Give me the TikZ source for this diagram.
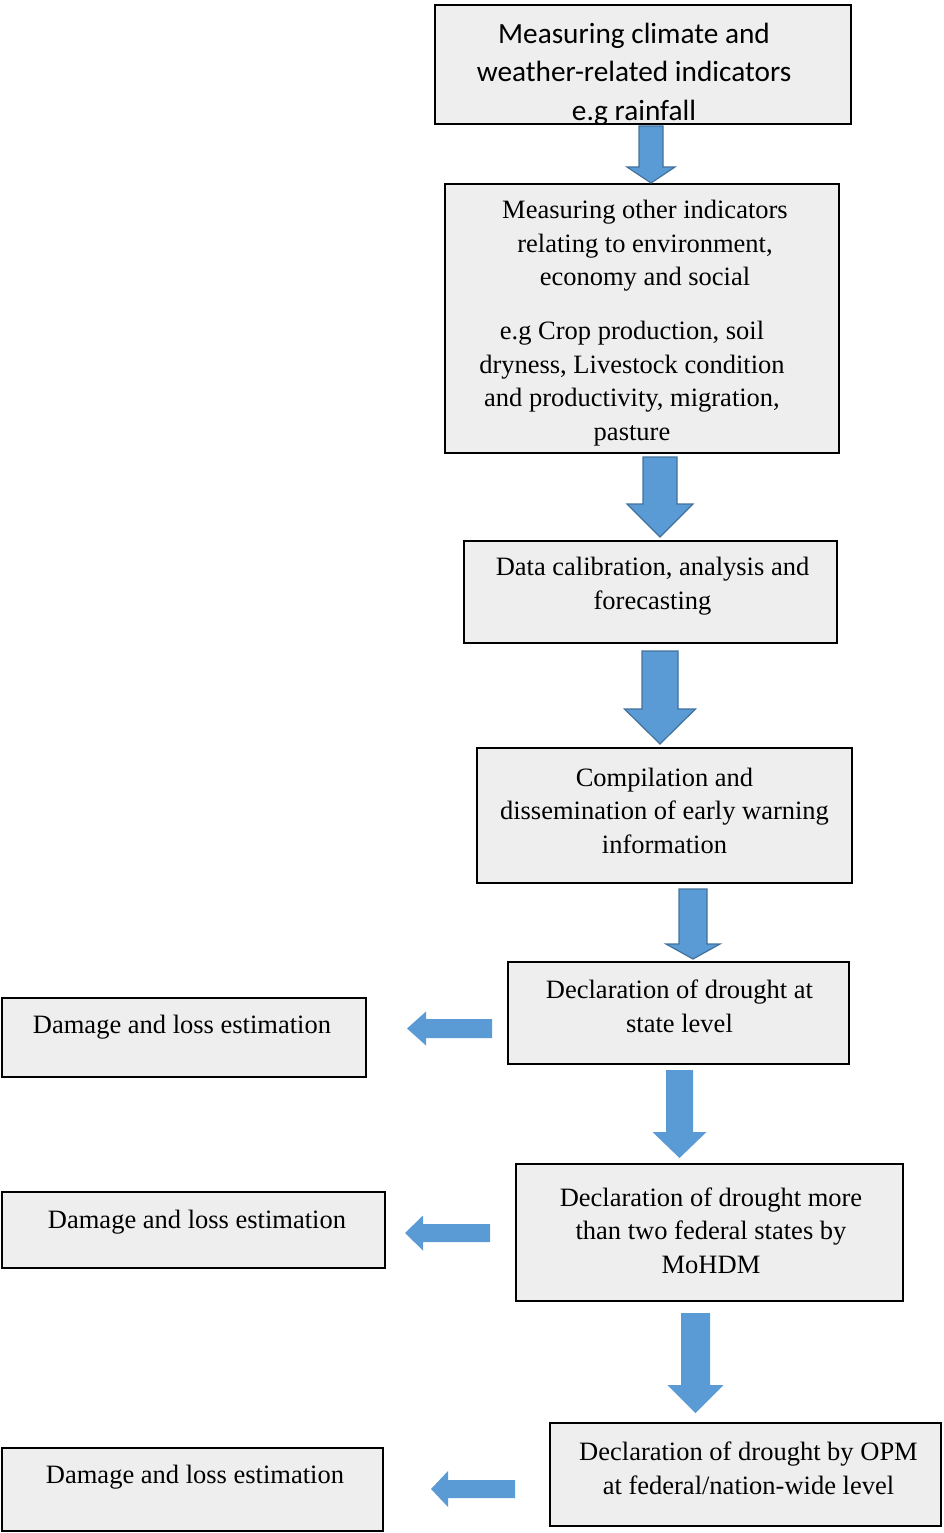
\documentclass[tikz,border=0pt]{standalone}
\usepackage{fontspec}
\setmainfont{Liberation Serif}
\newfontfamily\calibri{Carlito}
\definecolor{boxgray}{HTML}{EEEEEE}
\definecolor{arrowblue}{HTML}{5B9BD5}
\definecolor{arrowedge}{HTML}{41719C}
\newcommand{\padr}{\hbox to 26pt{}}
\tikzset{
  box/.style={draw=black, line width=1.6pt, fill=boxgray},
  txt/.style={align=center, font=\fontsize{26.5}{33.5}\selectfont},
  edged/.style={fill=arrowblue, draw=arrowedge, line width=1.2pt},
  flat/.style={fill=arrowblue}
}
\begin{document}
\begin{tikzpicture}[x=1pt, y=-1pt]
  \useasboundingbox (0,0) rectangle (943,1533);
  % main column
  \draw[box] (435,5) rectangle (851,124) node (climate) [pos=.5, txt, font=\calibri\fontsize{29.3}{38.5}\selectfont, xshift=-9pt, yshift=-9.5pt]
        {Measuring climate and\\ weather-related indicators\\ e.g rainfall};
  \draw[box] (445,184) rectangle (839,453) node (other) [pos=.5, txt, xshift=3pt, yshift=-4.5pt]
        {Measuring other indicators\\ relating to environment,\\ economy and social\\[20.5pt]
         e.g Crop production, soil\padr\\ dryness, Livestock condition\padr\\
         and productivity, migration,\padr\\ pasture\padr};
  \draw[box] (464,541) rectangle (837,643) node (calib) [pos=.5, txt, xshift=2pt, yshift=6pt]
        {Data calibration, analysis and\\ forecasting};
  \draw[box] (477,748) rectangle (852,883) node (compile) [pos=.5, txt, yshift=5pt]
        {Compilation and\\ dissemination of early warning\\ information};
  \draw[box] (508,962) rectangle (849,1064) node (state) [pos=.5, txt, xshift=1pt, yshift=6.5pt]
        {Declaration of drought at\\ state level};
  \draw[box] (516,1164) rectangle (903,1301) node (mohdm) [pos=.5, txt, xshift=1.5pt, yshift=2pt]
        {Declaration of drought more\\ than two federal states by\\ MoHDM};
  \draw[box] (550,1423) rectangle (941,1526) node (opm) [pos=.5, txt, xshift=3pt, yshift=6pt]
        {Declaration of drought by OPM\\ at federal/nation-wide level};
  % left column
  \draw[box] (2,998) rectangle (366,1077) node (lossA) [pos=.5, txt, xshift=-2pt, yshift=10pt]
        {Damage and loss estimation};
  \draw[box] (2,1192) rectangle (385,1268) node (lossB) [pos=.5, txt, xshift=3.5pt, yshift=7.5pt]
        {Damage and loss estimation};
  \draw[box] (2,1448) rectangle (383,1531) node (lossC) [pos=.5, txt, xshift=2.5pt, yshift=12pt]
        {Damage and loss estimation};
  % block arrows down
  \foreach \cx/\ya/\yb/\yc/\s/\h/\look in {651/126/167/183/12/24/edged, 660/457/504/537/17/33/edged,
      660/651/709/744/18/35.5/edged, 693/889/944/959/14/27/edged,
      679.5/1070/1132/1158/13.5/27/flat, 695.5/1313/1385/1413/14.5/28/flat}
    \path[\look] (\cx-\s,\ya) -- (\cx+\s,\ya) -- (\cx+\s,\yb) -- (\cx+\h,\yb) -- (\cx,\yc)
                 -- (\cx-\h,\yb) -- (\cx-\s,\yb) -- cycle;
  % block arrows left
  \foreach \cy/\xa/\xb/\xc/\s/\h in {1028.5/492/426/407/9.5/17, 1233/490/423/405/9/17.5,
      1489/515/448/431/9/18}
    \path[flat] (\xa,\cy-\s) -- (\xa,\cy+\s) -- (\xb,\cy+\s) -- (\xb,\cy+\h) -- (\xc,\cy)
                -- (\xb,\cy-\h) -- (\xb,\cy-\s) -- cycle;
\end{tikzpicture}
\end{document}
